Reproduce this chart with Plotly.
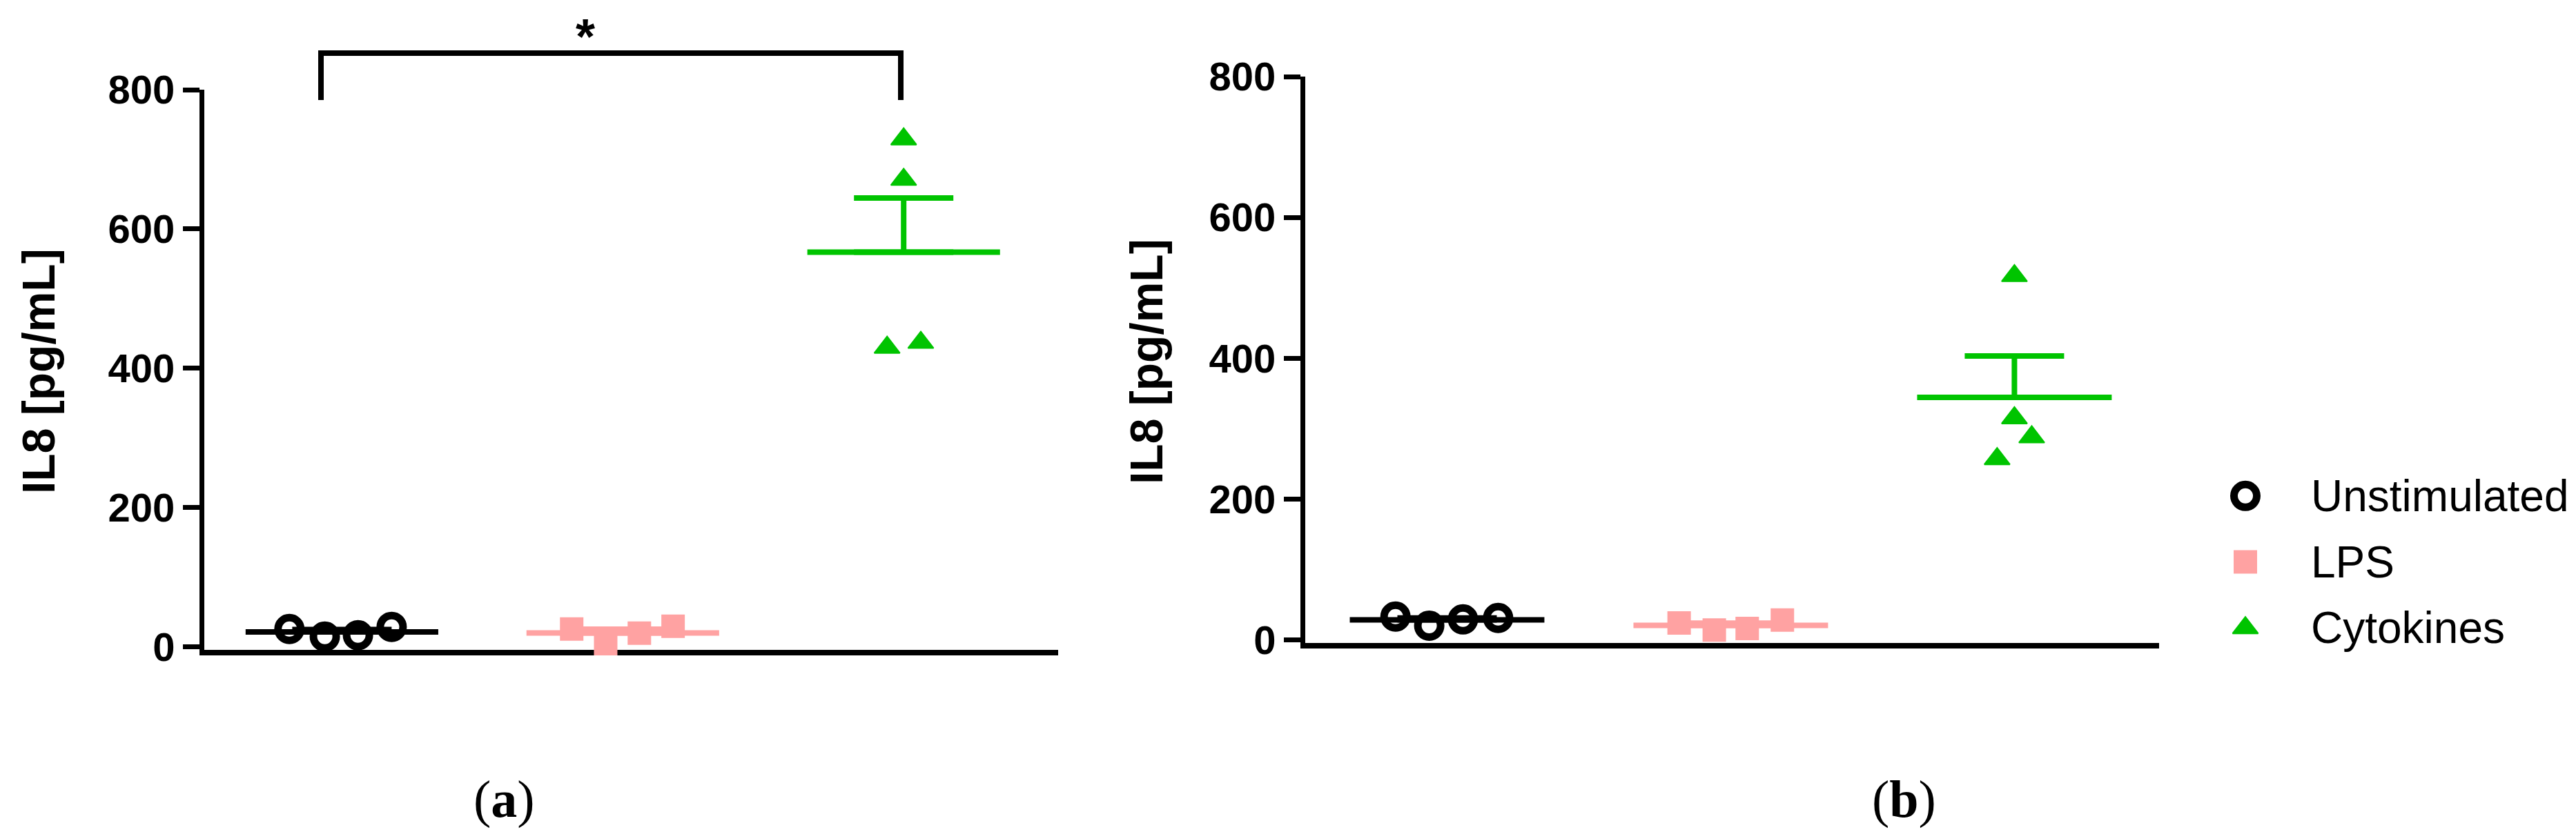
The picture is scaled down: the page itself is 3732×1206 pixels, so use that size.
import numpy as np
import plotly.graph_objects as go

# IL8 release, pg/mL
groups = ["Unstimulated", "LPS", "Cytokines"]

a_unstim = [26, 15, 17, 29]
a_lps = [26, 5, 20, 30]
a_cyto = [729, 671, 430, 437]

b_unstim = [33, 20, 29, 31]
b_lps = [24, 14, 16, 28]
b_cyto = [517, 315, 288, 257]

# horizontal spread of points inside each column (as GraphPad placed them)
a_spread = [[-0.187, -0.061, 0.057, 0.177],
            [-0.182, -0.061, 0.059, 0.179],
            [0.0, 0.0, -0.059, 0.061]]
b_spread = [[-0.182, -0.063, 0.056, 0.180],
            [-0.182, -0.058, 0.058, 0.182],
            [0.0, 0.0, 0.061, -0.061]]

y_ticks = [0, 200, 400, 600, 800]

colors = ["#000000", "#FFA2A2", "#00C400"]
symbols = ["circle-open", "square", "triangle-up"]
sizes = [33, 34, 32]
outline = [11, 0, 2]

W, H = 3732, 1206
FONT = "Arial, Liberation Sans, sans-serif"
SERIF = "Times New Roman, Liberation Serif, serif"


def px(xp):
    return xp / W


def py(yp):
    return 1 - yp / H


panels = [
    dict(vals=[a_unstim, a_lps, a_cyto], spread=a_spread, xa="x", ya="y",
         xdom=(288, 1525), ydom=(934, 122), xrange=[-0.49, 2.55]),
    dict(vals=[b_unstim, b_lps, b_cyto], spread=b_spread, xa="x2", ya="y2",
         xdom=(1883, 3120), ydom=(923.5, 103), xrange=[-0.5, 2.51]),
]

fig = go.Figure()

for p in panels:
    for g, (vals, off) in enumerate(zip(p["vals"], p["spread"])):
        v = np.array(vals, dtype=float)
        mean = v.mean()
        sem = v.std(ddof=1) / np.sqrt(len(v))
        # mean line + upper SEM whisker
        fig.add_trace(go.Scatter(
            x=[g], y=[mean], mode="markers", xaxis=p["xa"], yaxis=p["ya"],
            marker=dict(size=1, opacity=0), showlegend=False, hoverinfo="skip",
            error_x=dict(type="data", array=[0.343], width=0, thickness=8, color=colors[g]),
            error_y=dict(type="data", symmetric=False, array=[sem], arrayminus=[0],
                         width=72, thickness=8, color=colors[g]),
        ))
        fig.add_trace(go.Scatter(
            x=[g + o for o in off], y=vals, mode="markers", xaxis=p["xa"], yaxis=p["ya"],
            marker=dict(symbol=symbols[g], size=sizes[g], color=colors[g],
                        line=dict(width=outline[g], color=colors[g])),
            cliponaxis=False, showlegend=False, name=groups[g],
        ))

# legend drawn by hand so the symbols keep their real size
for g in range(3):
    fig.add_trace(go.Scatter(
        x=[0.5], y=[g], mode="markers", xaxis="x3", yaxis="y3",
        marker=dict(symbol=symbols[g], size=sizes[g], color=colors[g],
                    line=dict(width=outline[g], color=colors[g])),
        cliponaxis=False, showlegend=False, hoverinfo="skip",
    ))

axis_x = dict(showline=True, linewidth=8, linecolor="black", showticklabels=False,
              ticks="", showgrid=False, zeroline=False, layer="below traces",
              automargin=False, fixedrange=True)
axis_y = dict(showline=True, linewidth=7, linecolor="black", ticks="outside", ticklen=24,
              tickwidth=7, tickcolor="black", tickvals=y_ticks, range=[-4, 800],
              tickfont=dict(family=FONT, size=58, color="black", weight="bold"),
              showgrid=False, zeroline=False, layer="below traces",
              automargin=False, fixedrange=True)

layout = dict(
    template="none",
    width=W, height=H, autosize=False,
    margin=dict(l=0, r=0, t=0, b=0, pad=0, autoexpand=False),
    paper_bgcolor="white", plot_bgcolor="white",
    font=dict(family=FONT, color="black"),
    showlegend=False,
)
for i, p in enumerate(panels):
    sx = "" if i == 0 else str(i + 1)
    layout["xaxis" + sx] = dict(axis_x, domain=[px(p["xdom"][0]), px(p["xdom"][1])],
                                range=p["xrange"], anchor=p["ya"])
    layout["yaxis" + sx] = dict(axis_y, domain=[py(p["ydom"][0]), py(p["ydom"][1])],
                                anchor=p["xa"])

layout["xaxis3"] = dict(domain=[px(3200), px(3290)], range=[0, 1], visible=False,
                        anchor="y3", automargin=False, fixedrange=True)
layout["yaxis3"] = dict(domain=[py(950), py(663)], range=[2.5, -0.5], visible=False,
                        anchor="x3", automargin=False, fixedrange=True)
fig.update_layout(**layout)

annotations = []
# y axis titles
for xc, yc in [(48, 530), (1653, 516)]:
    annotations.append(dict(text="IL8 [pg/mL]", textangle=-90, x=px(xc), y=py(yc),
                            xref="paper", yref="paper", xanchor="center", yanchor="middle",
                            showarrow=False, font=dict(size=66, weight="bold")))
# legend labels
for g, name in enumerate(groups):
    annotations.append(dict(text=name, x=px(3338), y=g, xref="paper", yref="y3",
                            xanchor="left", yanchor="middle", showarrow=False,
                            font=dict(size=64)))
# significance star over the bracket
annotations.append(dict(text="*", x=px(840), y=py(3), xref="paper", yref="paper",
                        xanchor="center", yanchor="top", showarrow=False,
                        font=dict(size=72, weight="bold")))
# panel captions
for lab, xc in [("a", 722), ("b", 2750)]:
    annotations.append(dict(text="(<b>%s</b>)" % lab, x=px(xc), y=py(1150),
                            xref="paper", yref="paper", xanchor="center", yanchor="middle",
                            showarrow=False, font=dict(family=SERIF, size=76)))
fig.update_layout(annotations=annotations)

# significance bracket between Unstimulated and Cytokines in (a)
fig.add_shape(type="path", xref="paper", yref="paper",
              path="M %f,%f V %f H %f V %f" % (px(457), py(137), py(69), px(1297), py(137)),
              line=dict(color="black", width=8))

fig.write_html("out.html")
